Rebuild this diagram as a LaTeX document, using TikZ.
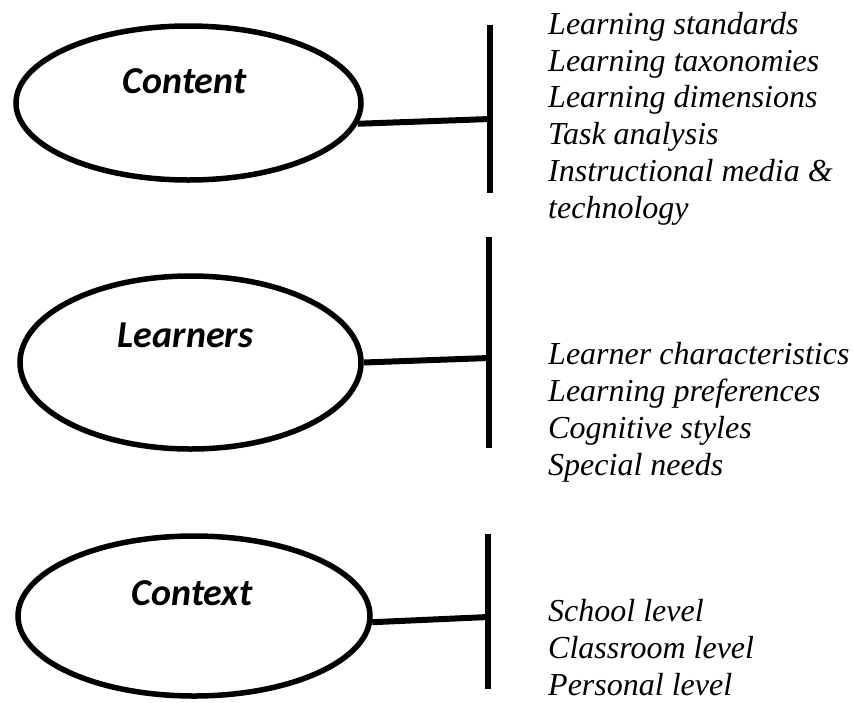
\documentclass[tikz,border=0pt]{standalone}
\usepackage{fontspec}
\setmainfont{Liberation Serif}
\newfontfamily\tagfont{Carlito}
\usetikzlibrary{shapes.geometric}

\tikzset{
  blob/.style={ellipse, draw, line width=5.5pt, inner sep=0pt},
  tag/.style={font=\tagfont\bfseries\itshape\fontsize{38}{42}\selectfont, anchor=base},
  items/.style={font=\itshape\fontsize{32}{36.7}\selectfont, align=left, anchor=base west, inner sep=0pt},
  bar/.style={line width=6.5pt},
  link/.style={draw, line width=6pt}
}

\begin{document}
\begin{tikzpicture}[x=1pt,y=-1pt]
\useasboundingbox (0,0) rectangle (853,702);

% the three ellipses and their names
\node[blob, minimum width=345, minimum height=154] (content) at (188.5,103) {};
\node[blob, minimum width=341, minimum height=173] (learners) at (190.5,362.5) {};
\node[blob, minimum width=352, minimum height=160] (context) at (194,616) {};
\node[tag] (contenttag) at ([xshift=-4pt,yshift=10pt]content.center) {Content};
\node[tag] (learnerstag) at ([xshift=-5pt,yshift=15.5pt]learners.center) {Learners};
\node[tag] (contexttag) at ([xshift=-2pt,yshift=11pt]context.center) {Context};

% vertical bars
\coordinate (ctop) at (490,25);
\coordinate (cbot) at (490,193);
\coordinate (cjoin) at (490,119);
\coordinate (ltop) at (489,237);
\coordinate (lbot) at (489,448);
\coordinate (ljoin) at (489,358);
\coordinate (xtop) at (488,534);
\coordinate (xbot) at (488,689);
\coordinate (xjoin) at (488,617);
\draw[bar] (ctop) -- (cbot);
\draw[bar] (ltop) -- (lbot);
\draw[bar] (xtop) -- (xbot);

\path[link] (content.-7) edge (cjoin)
            (learners.east) edge (ljoin)
            (context.-2) edge (xjoin)
            ;

% lists (anchored on the baseline of their last line)
\node[items] (contentlist) at (548,218) {Learning standards\\Learning taxonomies\\Learning dimensions\\Task analysis\\Instructional media \&\\technology};
\node[items] (learnerslist) at (548,475) {Learner characteristics\\Learning preferences\\Cognitive styles\\Special needs};
\node[items] (contextlist) at (548,695) {School level\\Classroom level\\Personal level};
\end{tikzpicture}
\end{document}
